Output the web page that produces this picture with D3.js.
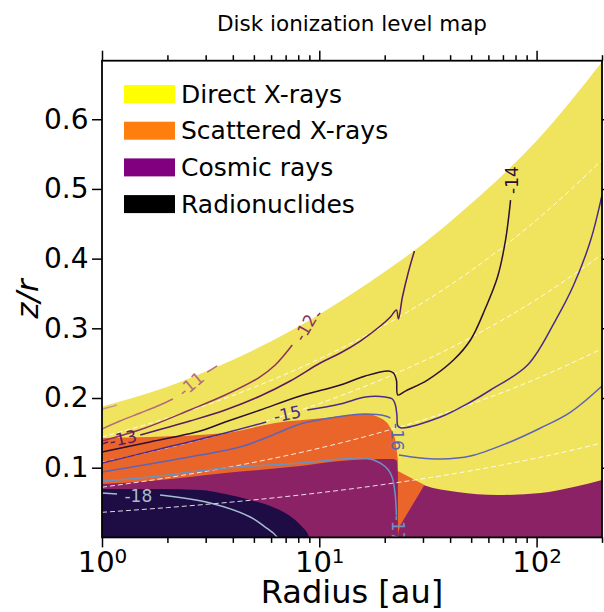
<!DOCTYPE html>
<html>
<head>
<meta charset="utf-8">
<script src="https://cdn.jsdelivr.net/npm/d3@7"></script>
<style>
  body { margin: 0; background: #fff; }
  svg { display: block; font-family: "DejaVu Sans", sans-serif; }
</style>
</head>
<body>
<div id="chart"></div>
<script>
var width = 604, height = 612;

// ---- data (r in au, z/r) ----
var title = "Disk ionization level map";
var sources = ["Direct X-rays", "Scattered X-rays", "Cosmic rays", "Radionuclides"];
var legendColors = ["#ffff00", "#ff7f0e", "#800080", "#000000"];
var fillColors = ["#f0e45e", "#ea652a", "#8c2266", "#1e0c44"];

var xTicks = [1, 10, 100];
var xMinorTicks = [2, 3, 4, 5, 6, 7, 8, 9, 20, 30, 40, 50, 60, 70, 80, 90, 200];
var yTicks = [0.1, 0.2, 0.3, 0.4, 0.5, 0.6];

// upper disk surface
var diskSurface = [[1, 0.188], [2, 0.216], [3, 0.238], [5, 0.269], [10, 0.32], [20, 0.381], [30, 0.421], [50, 0.479], [100, 0.569], [200, 0.682]];

// white dashed height lines
var heightLines = [
  [[1, 0.036], [2, 0.0428], [5, 0.0538], [10, 0.064], [20, 0.0761], [50, 0.0957], [100, 0.1138], [200, 0.1354]],
  [[1, 0.072], [2, 0.0856], [5, 0.1077], [10, 0.128], [20, 0.1523], [50, 0.1915], [100, 0.2277], [200, 0.2708]],
  [[1, 0.108], [2, 0.1284], [5, 0.1615], [10, 0.192], [20, 0.2284], [50, 0.2872], [100, 0.3415], [200, 0.4061]],
  [[1, 0.144], [2, 0.1713], [5, 0.2153], [10, 0.2561], [20, 0.3045], [50, 0.3829], [100, 0.4554], [200, 0.5415]]
];

// dominant source regions (top edge of each)
var scatteredTop = [[1, 0.1427], [1.66, 0.1441], [3.69, 0.1498], [6.27, 0.1642], [10.66, 0.1713], [16.29, 0.177], [19.1, 0.1713], [21.24, 0.157], [22.4, 0.1383], [23.0, 0.111]];
var cosmicTop = [[1, 0.0766], [1.66, 0.0809], [3.69, 0.0924], [8.17, 0.1024], [12.5, 0.1096], [16.29, 0.1118], [21.93, 0.1125], [22.76, 0.1096], [23.0, 0.0938], [30.15, 0.0752], [43.2, 0.0651], [66.1, 0.0608], [104.3, 0.0637], [148.1, 0.0723], [200, 0.0824]];
var scatteredPocket = [[23.0, 0.0953], [30.47, 0.0752], [23.62, 0.0178], [23.13, 0.0078], [23.0, 0]];
var radionuclideTop = [[1, 0.0694], [1.85, 0.0694], [2.83, 0.068], [3.69, 0.0623], [4.81, 0.0537], [5.95, 0.0451], [6.97, 0.035], [7.75, 0.0249], [8.35, 0.0149], [8.81, 0.0063], [8.99, 0]];

// ionization contours, log10 levels (segments broken at labels)
var contourLevels = [-10, -11, -12, -13, -14, -15, -16, -17, -18];
var contourColors = ["#c9979f", "#b36c7c", "#8a3560", "#5a1a5e", "#2a0f33", "#4a2a8c", "#5d64b5", "#6b92c4", "#a4bdd0"];

var c10 = [[[1, 0.184], [1.09, 0.187], [1.17, 0.19]]];
var c11 = [[[1, 0.1555], [1.21, 0.167], [1.5, 0.1785], [1.85, 0.19], [2.12, 0.1986]],
           [[3.05, 0.2373], [3.39, 0.246]]];
var c12 = [[[1, 0.1383], [1.58, 0.157], [2.54, 0.1829], [3.69, 0.2043], [5.24, 0.2287], [6.27, 0.2474], [7.51, 0.276]],
           [[9.79, 0.3176], [10.1, 0.322]]];
var c13 = [[[1, 0.134], [1.066, 0.1369]],
           [[1.5, 0.1469], [2.54, 0.167], [3.69, 0.1828], [5.35, 0.2029], [7.35, 0.2244], [10.1, 0.2502], [12.5, 0.2646], [15.45, 0.2818], [19.1, 0.3033], [21.24, 0.3162], [22.64, 0.3263], [23.13, 0.3134], [24.13, 0.3449], [25.71, 0.3808], [27.4, 0.411]]];
var c14 = [[[1, 0.1225], [1.66, 0.1369], [2.83, 0.1527], [3.69, 0.1656], [5.35, 0.1828], [8.17, 0.2029], [12.5, 0.2187], [16.29, 0.2316], [20.8, 0.2388], [21.93, 0.2359], [22.64, 0.2259], [23.0, 0.2043], [24.91, 0.21], [31.46, 0.2258], [41.46, 0.2545], [49.64, 0.2832], [58.2, 0.3291], [66.1, 0.3736], [71.96, 0.4266], [75.9, 0.484]]];
var c15 = [[[1, 0.1067], [1.85, 0.1268], [3.69, 0.1498], [5.7, 0.1656]],
           [[8.81, 0.1828], [12.5, 0.1914], [16.29, 0.2014], [20.15, 0.2014], [21.7, 0.1986], [22.4, 0.19], [22.76, 0.1756], [23.0, 0.1598], [23.87, 0.157], [36.12, 0.1727], [49.64, 0.1943], [61.4, 0.2115], [90.9, 0.2474], [122.4, 0.3119], [148.1, 0.3621], [177.4, 0.4267], [200, 0.4912]]];
var c16 = [[[1, 0.0938], [1.66, 0.1053], [2.83, 0.1182], [4.32, 0.1297], [5.95, 0.1455], [8.17, 0.1627], [11.23, 0.1713], [16.29, 0.177], [20.15, 0.1742], [21.24, 0.1713]],
           [[23.25, 0.1182], [29.2, 0.1139], [36.12, 0.1124], [49.64, 0.1168], [73.5, 0.1354], [104.3, 0.157], [143.5, 0.1799], [200, 0.2172]]];
var c17 = [[[1, 0.0809], [1.66, 0.0866], [3.69, 0.0996], [8.17, 0.1067], [12.5, 0.1124], [16.29, 0.1139], [19.1, 0.1067], [20.8, 0.0967], [21.7, 0.0852], [22.36, 0.0608], [22.64, 0.0321]]];
var c18 = [[[1, 0.0637], [1.173, 0.0623]],
           [[1.85, 0.0609], [3.15, 0.0494], [4.81, 0.0293], [5.64, 0.0149], [6.14, 0.0063], [6.41, 0]]];
var contourSegments = [c10, c11, c12, c13, c14, c15, c16, c17, c18];

// inline labels: level, r, z/r, angle
var contourLabels = [
  [-11, 2.57, 0.220, -40],
  [-12, 8.62, 0.3011, -60],
  [-13, 1.25, 0.1419, -12],
  [-14, 76.7, 0.5128, -90],
  [-15, 7.12, 0.1771, -12],
  [-16, 22.88, 0.1441, 90],
  [-17, 23.0, 0.0127, 90],
  [-18, 1.47, 0.0594, 0]
];

// ---- chart ----
var pLeft = 102, pRight = 602, pTop = 60.7, pBottom = 537.4;

var x = d3.scaleLog().domain([1, 200]).range([pLeft, pRight]);
var y = d3.scaleLinear().domain([0, 0.684]).range([pBottom, pTop]);

var svg = d3.select("#chart").append("svg")
    .attr("width", width)
    .attr("height", height);

svg.append("defs").append("clipPath").attr("id", "plot-clip")
    .append("rect")
    .attr("x", pLeft).attr("y", pTop)
    .attr("width", pRight - pLeft).attr("height", pBottom - pTop);

var plot = svg.append("g").attr("clip-path", "url(#plot-clip)");

var areaTop = d3.area()
    .x(d => x(d[0]))
    .y0(y(0))
    .y1(d => y(d[1]))
    .curve(d3.curveMonotoneX);

var smooth = d3.line()
    .x(d => x(d[0]))
    .y(d => y(d[1]))
    .curve(d3.curveMonotoneX);

var contourLine = d3.line()
    .x(d => x(d[0]))
    .y(d => y(d[1]))
    .curve(d3.curveCatmullRom.alpha(0.5));

//Regions
plot.append("path").attr("d", areaTop(diskSurface)).attr("fill", fillColors[0]);
plot.append("path").attr("d", areaTop(scatteredTop)).attr("fill", fillColors[1]);
plot.append("path").attr("d", areaTop(cosmicTop)).attr("fill", fillColors[2]);
plot.append("path")
    .attr("d", d3.line().x(d => x(d[0])).y(d => y(d[1])).curve(d3.curveLinearClosed)(scatteredPocket))
    .attr("fill", fillColors[1]);
plot.append("path").attr("d", areaTop(radionuclideTop)).attr("fill", fillColors[3]);

//Dashed height lines
plot.selectAll(".hline")
    .data(heightLines)
    .enter().append("path")
    .attr("class", "hline")
    .attr("d", smooth)
    .attr("fill", "none")
    .attr("stroke", "#ffffff")
    .attr("stroke-opacity", 0.85)
    .attr("stroke-width", 1)
    .attr("stroke-dasharray", "5,3");

//Contours
contourSegments.forEach(function(segs, i){
    plot.selectAll(null)
        .data(segs)
        .enter().append("path")
        .attr("d", contourLine)
        .attr("fill", "none")
        .attr("stroke", contourColors[i])
        .attr("stroke-width", 1.5);
});

plot.selectAll(".clabel")
    .data(contourLabels)
    .enter().append("text")
    .attr("class", "clabel")
    .attr("transform", d => "translate(" + x(d[1]) + "," + y(d[2]) + ") rotate(" + d[3] + ")")
    .attr("text-anchor", "middle")
    .attr("dy", "0.36em")
    .attr("font-size", 17)
    .attr("fill", d => contourColors[contourLevels.indexOf(d[0])])
    .text(d => d[0]);

//Axes
function styleTicks(g){
    g.select(".domain").remove();
    g.selectAll("line").attr("stroke", "#000").attr("stroke-width", 1.5);
}

var gx = svg.append("g")
    .attr("transform", "translate(0," + pBottom + ")")
    .call(d3.axisBottom(x).tickValues(xTicks).tickSize(10).tickPadding(4).tickFormat(""))
    .call(styleTicks)
    .attr("font-family", "DejaVu Sans")
    .attr("font-size", 29);

gx.selectAll(".tick text").each(function(d){
    var t = d3.select(this).attr("fill", "#000");
    t.append("tspan").text("10");
    t.append("tspan").attr("dy", "-0.45em").attr("font-size", 20).text(Math.round(Math.log10(d)));
});

svg.append("g")
    .attr("transform", "translate(0," + pBottom + ")")
    .call(d3.axisBottom(x).tickValues(xMinorTicks).tickSize(5.5).tickFormat(""))
    .call(styleTicks);

svg.append("g")
    .attr("transform", "translate(0," + pTop + ")")
    .call(d3.axisTop(x).tickValues(xTicks).tickSize(10).tickFormat(""))
    .call(styleTicks);

svg.append("g")
    .attr("transform", "translate(0," + pTop + ")")
    .call(d3.axisTop(x).tickValues(xMinorTicks).tickSize(5.5).tickFormat(""))
    .call(styleTicks);

svg.append("g")
    .attr("transform", "translate(" + pLeft + ",0)")
    .call(d3.axisLeft(y).tickValues(yTicks).tickSize(10).tickPadding(3.5).tickFormat(d3.format(".1f")))
    .call(styleTicks)
    .attr("font-family", "DejaVu Sans")
    .attr("font-size", 28)
    .selectAll("text").attr("fill", "#000");

svg.append("g")
    .attr("transform", "translate(" + pRight + ",0)")
    .call(d3.axisRight(y).tickValues(yTicks).tickSize(10).tickFormat(""))
    .call(styleTicks);

//Frame
svg.append("rect")
    .attr("x", pLeft).attr("y", pTop)
    .attr("width", pRight - pLeft).attr("height", pBottom - pTop)
    .attr("fill", "none")
    .attr("stroke", "#000")
    .attr("stroke-width", 1.8);

//Labels
svg.append("text")
    .attr("x", (pLeft + pRight) / 2)
    .attr("y", 31)
    .attr("text-anchor", "middle")
    .attr("font-size", 21.5)
    .text(title);

svg.append("text")
    .attr("x", (pLeft + pRight) / 2)
    .attr("y", 603)
    .attr("text-anchor", "middle")
    .attr("font-size", 32)
    .text("Radius [au]");

svg.append("text")
    .attr("transform", "translate(38," + ((pTop + pBottom) / 2) + ") rotate(-90)")
    .attr("text-anchor", "middle")
    .attr("font-size", 31)
    .attr("font-style", "italic")
    .text("z/r");

//Legend
var legend = svg.append("g").attr("transform", "translate(124,94)");
var rows = legend.selectAll(".row")
    .data(sources)
    .enter().append("g")
    .attr("class", "row")
    .attr("transform", (d, i) => "translate(0," + (i * 36.7) + ")");

rows.append("rect")
    .attr("x", 0).attr("y", -9)
    .attr("width", 51).attr("height", 18)
    .attr("fill", (d, i) => legendColors[i]);

rows.append("text")
    .attr("x", 57)
    .attr("y", 8.5)
    .attr("font-size", 25)
    .text(d => d);
</script>
</body>
</html>
